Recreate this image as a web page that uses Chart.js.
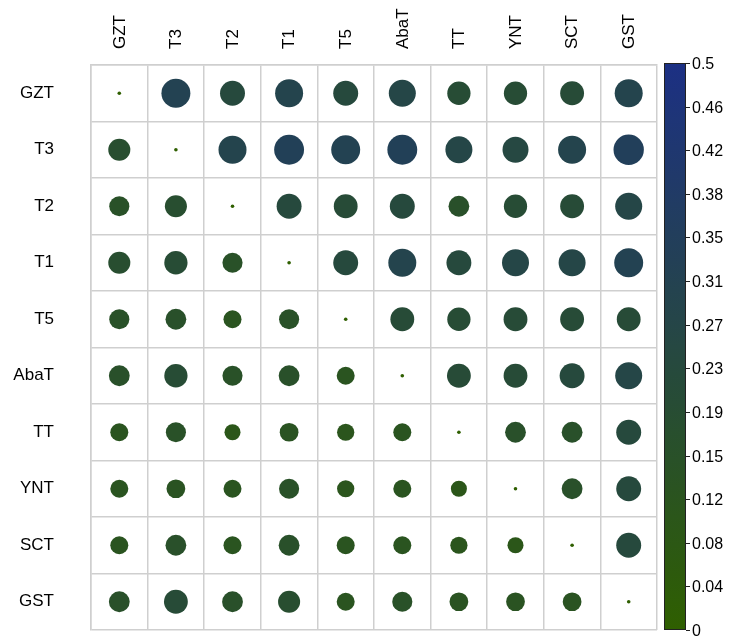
<!DOCTYPE html>
<html><head><meta charset="utf-8">
<script src="https://cdn.jsdelivr.net/npm/chart.js@4"></script>
<style>html,body{margin:0;padding:0;background:#fff}#wrap{width:730px;height:637px}</style>
</head><body><div id="wrap"><canvas id="c" width="730" height="637"></canvas></div>
<script>
// ---- data ----
const categories = ['GZT','T3','T2','T1','T5','AbaT','TT','YNT','SCT','GST'];
const rowGZT  = [0,    0.31, 0.23, 0.29, 0.23, 0.27, 0.20, 0.20, 0.21, 0.29];
const rowT3   = [0.18, 0,    0.29, 0.33, 0.31, 0.33, 0.27, 0.25, 0.29, 0.34];
const rowT2   = [0.15, 0.18, 0,    0.23, 0.21, 0.23, 0.16, 0.20, 0.21, 0.27];
const rowT1   = [0.18, 0.20, 0.15, 0,    0.23, 0.29, 0.23, 0.27, 0.27, 0.31];
const rowT5   = [0.15, 0.16, 0.12, 0.15, 0,    0.21, 0.20, 0.21, 0.21, 0.21];
const rowAbaT = [0.16, 0.20, 0.15, 0.16, 0.12, 0,    0.21, 0.21, 0.23, 0.27];
const rowTT   = [0.12, 0.15, 0.095,0.13, 0.11, 0.12, 0,    0.16, 0.16, 0.23];
const rowYNT  = [0.12, 0.13, 0.12, 0.15, 0.11, 0.12, 0.095,0,    0.16, 0.23];
const rowSCT  = [0.12, 0.16, 0.12, 0.16, 0.12, 0.12, 0.11, 0.095,0,    0.23];
const rowGST  = [0.16, 0.21, 0.16, 0.18, 0.12, 0.15, 0.13, 0.13, 0.13, 0];
const matrixRows = [rowGZT,rowT3,rowT2,rowT1,rowT5,rowAbaT,rowTT,rowYNT,rowSCT,rowGST];
const colorbarTicks = ['0','0.04','0.08','0.12','0.15','0.19','0.23','0.27','0.31','0.35','0.38','0.42','0.46','0.5'];
const colorMin = 0, colorMax = 0.5;

// ---- encodings ----
const lowRGB = [47, 95, 0], highRGB = [28, 48, 132];
function colorFor(v){
  const t = Math.max(0, Math.min(1, (v - colorMin) / (colorMax - colorMin)));
  const c = lowRGB.map((a,i)=>Math.round(a + (highRGB[i]-a)*t));
  return `rgb(${c[0]},${c[1]},${c[2]})`;
}
function radiusFor(v){ return Math.max(1.8, 26*Math.sqrt(v)); }

const points = [];
matrixRows.forEach((row,i)=>row.forEach((v,j)=>{
  points.push({x: categories[j], y: categories[i], r: radiusFor(v), v: v});
}));

const FONT = 'Liberation Sans, Arial, sans-serif';
const gridColor = '#cfcfcf';

const colorbarPlugin = {
  id: 'colorbar',
  afterDraw(chart){
    const a = chart.chartArea; const ctx = chart.ctx;
    const x0 = a.right + 7, w = 22;
    const yTop = a.top - 2, yBot = a.bottom;
    const valToY = v => yBot - (v - colorMin) / (colorMax - colorMin) * (yBot - yTop);
    const g = ctx.createLinearGradient(0, yBot, 0, yTop);
    const N = 20;
    for (let k=0;k<=N;k++){ g.addColorStop(k/N, colorFor(colorMin + (colorMax-colorMin)*k/N)); }
    ctx.save();
    ctx.fillStyle = g;
    ctx.fillRect(x0, yTop, w, yBot - yTop);
    ctx.strokeStyle = '#222'; ctx.lineWidth = 1;
    ctx.strokeRect(x0 + 0.5, yTop + 0.5, w - 1, yBot - yTop - 1);
    ctx.fillStyle = '#000'; ctx.font = '16px ' + FONT; ctx.textAlign = 'left'; ctx.textBaseline = 'middle';
    colorbarTicks.forEach((lab,k)=>{
      const v = colorMin + (colorMax - colorMin) * k / (colorbarTicks.length - 1);
      const y = Math.round(valToY(v)) + 0.5;
      ctx.beginPath(); ctx.moveTo(x0 + w, y); ctx.lineTo(x0 + w + 4, y); ctx.stroke();
      ctx.fillText(lab, x0 + w + 6, y + 1);
    });
    ctx.restore();
  }
};

new Chart(document.getElementById('c'), {
  type: 'bubble',
  data: { datasets: [{
    data: points,
    backgroundColor: ctx => colorFor(ctx.raw ? ctx.raw.v : 0),
    borderWidth: 0,
    hoverBorderWidth: 0
  }]},
  options: {
    responsive: false, animation: false, devicePixelRatio: 1,
    layout: { autoPadding: false, padding: { top: 0, bottom: 7, left: 0, right: 73 } },
    plugins: { legend: { display: false }, tooltip: { enabled: false } },
    scales: {
      x: {
        type: 'category', position: 'top', labels: categories, offset: true,
        grid: { offset: true, color: gridColor, lineWidth: 1.5, drawTicks: false },
        border: { color: gridColor, width: 1.5 },
        ticks: { minRotation: 90, maxRotation: 90, padding: 16, labelOffset: 21, color: '#000', font: { family: FONT, size: 17 } },
        afterFit: s => { s.height = 65; s.paddingLeft = 0; s.paddingRight = 0; }
      },
      y: {
        type: 'category', position: 'left', labels: categories, offset: true,
        grid: { offset: true, color: gridColor, lineWidth: 1.5, drawTicks: false },
        border: { color: gridColor, width: 1.5 },
        ticks: { padding: 37, color: '#000', font: { family: FONT, size: 17 } },
        afterFit: s => { s.width = 91; s.paddingTop = 0; s.paddingBottom = 0; }
      }
    }
  },
  plugins: [colorbarPlugin]
});
</script></body></html>
